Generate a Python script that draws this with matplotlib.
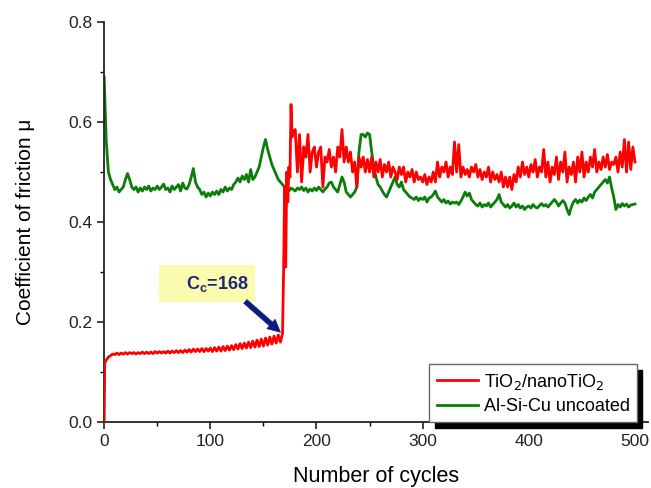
import numpy as np
import matplotlib
matplotlib.use("Agg")
import matplotlib.pyplot as plt
from matplotlib.patches import Rectangle
from matplotlib.ticker import MultipleLocator

plt.rcParams['font.family'] = ['Liberation Sans', 'DejaVu Sans']

# ---------------- data ----------------
# TiO2/nanoTiO2 coating: running-in stage (cycles 0 .. 168)
red_cycles_a = [0, 0.5] + list(range(2, 170, 2))
red_mu_a = [0.0, 0.118,
            0.124, 0.130, 0.133, 0.136, 0.135,
            0.138, 0.135, 0.138, 0.136, 0.139,
            0.136, 0.139, 0.137, 0.139, 0.136,
            0.139, 0.137, 0.140, 0.137, 0.140,
            0.137, 0.140, 0.137, 0.141, 0.138,
            0.141, 0.138, 0.141, 0.138, 0.142,
            0.138, 0.142, 0.139, 0.143, 0.139,
            0.143, 0.139, 0.144, 0.140, 0.145,
            0.140, 0.146, 0.141, 0.146, 0.141,
            0.147, 0.141, 0.147, 0.142, 0.148,
            0.141, 0.149, 0.142, 0.150, 0.142,
            0.151, 0.143, 0.152, 0.144, 0.153,
            0.145, 0.155, 0.146, 0.157, 0.147,
            0.158, 0.148, 0.160, 0.149, 0.162,
            0.150, 0.164, 0.151, 0.166, 0.152,
            0.168, 0.154, 0.170, 0.156, 0.172,
            0.158, 0.174, 0.160, 0.177]
# coating failure transition
red_cycles_b = [169, 170, 171, 172, 173, 174, 175, 176, 177, 178]
red_mu_b = [0.30, 0.47, 0.31, 0.50, 0.44, 0.51, 0.49, 0.635, 0.57, 0.58]
# after failure (cycles 180 .. 500)
red_cycles_c = list(range(180, 502, 2))
red_mu_c = [0.585, 0.50, 0.575, 0.48, 0.55,
            0.53, 0.575, 0.50, 0.54, 0.55,
            0.51, 0.54, 0.55, 0.47, 0.53,
            0.52, 0.545, 0.51, 0.53, 0.50,
            0.55, 0.53, 0.585, 0.52, 0.55,
            0.52, 0.54, 0.50, 0.52, 0.47,
            0.53, 0.51, 0.53, 0.50, 0.525,
            0.50, 0.53, 0.49, 0.52, 0.50,
            0.525, 0.49, 0.515, 0.50, 0.52,
            0.49, 0.51, 0.50, 0.485, 0.51,
            0.495, 0.51, 0.48, 0.50, 0.49,
            0.505, 0.48, 0.50, 0.485, 0.49,
            0.48, 0.495, 0.475, 0.49, 0.48,
            0.50, 0.48, 0.52, 0.49, 0.51,
            0.50, 0.52, 0.49, 0.51, 0.495,
            0.56, 0.50, 0.555, 0.49, 0.51,
            0.495, 0.505, 0.49, 0.51, 0.50,
            0.515, 0.49, 0.505, 0.485, 0.50,
            0.49, 0.51, 0.48, 0.50, 0.485,
            0.495, 0.48, 0.50, 0.47, 0.49,
            0.47, 0.49, 0.465, 0.495, 0.48,
            0.51, 0.49, 0.52, 0.495, 0.51,
            0.49, 0.515, 0.50, 0.525, 0.49,
            0.51, 0.50, 0.545, 0.49, 0.52,
            0.48, 0.51, 0.495, 0.53, 0.485,
            0.52, 0.50, 0.54, 0.48, 0.51,
            0.495, 0.52, 0.48, 0.53, 0.50,
            0.54, 0.49, 0.52, 0.50, 0.53,
            0.51, 0.545, 0.50, 0.52, 0.505,
            0.53, 0.51, 0.535, 0.505, 0.52,
            0.515, 0.53, 0.50, 0.54, 0.51,
            0.565, 0.50, 0.56, 0.505, 0.55,
            0.52]

# Al-Si-Cu uncoated substrate
green_cycles = list(range(0, 502, 2))
green_mu = [0.69, 0.56, 0.50, 0.485, 0.475,
            0.465, 0.47, 0.46, 0.465, 0.47,
            0.485, 0.497, 0.485, 0.47, 0.465,
            0.47, 0.46, 0.468, 0.462, 0.47,
            0.465, 0.472, 0.462, 0.468, 0.465,
            0.472, 0.465, 0.47, 0.476, 0.465,
            0.468, 0.46, 0.472, 0.465, 0.47,
            0.475, 0.462, 0.478, 0.468, 0.466,
            0.475, 0.49, 0.507, 0.48, 0.47,
            0.465, 0.455, 0.46, 0.45, 0.458,
            0.452, 0.46, 0.455, 0.462, 0.455,
            0.465, 0.46, 0.47, 0.462, 0.468,
            0.465, 0.475, 0.48, 0.488, 0.48,
            0.492, 0.485, 0.495, 0.48, 0.505,
            0.485, 0.49, 0.50, 0.51, 0.53,
            0.55, 0.565, 0.545, 0.53, 0.515,
            0.505, 0.495, 0.485, 0.48, 0.475,
            0.47, 0.465, 0.462, 0.468, 0.465,
            0.462, 0.468, 0.465, 0.47, 0.463,
            0.468, 0.46, 0.466, 0.462, 0.468,
            0.463, 0.47, 0.465, 0.46, 0.466,
            0.47, 0.478, 0.48, 0.47, 0.465,
            0.46, 0.475, 0.49, 0.48, 0.46,
            0.455, 0.45, 0.455, 0.46, 0.47,
            0.54, 0.575, 0.575, 0.57, 0.578,
            0.575, 0.54, 0.51, 0.49, 0.475,
            0.47, 0.462, 0.455, 0.45, 0.46,
            0.47, 0.48, 0.49, 0.475, 0.47,
            0.48, 0.465, 0.46, 0.455, 0.45,
            0.448, 0.445, 0.45, 0.443, 0.448,
            0.445, 0.45, 0.44, 0.448, 0.45,
            0.455, 0.462, 0.45, 0.445, 0.44,
            0.445, 0.438, 0.442, 0.436, 0.44,
            0.438, 0.44, 0.435, 0.442, 0.45,
            0.46, 0.452, 0.458, 0.445, 0.44,
            0.435, 0.432, 0.438, 0.43, 0.435,
            0.432, 0.438, 0.43, 0.435, 0.44,
            0.445, 0.455, 0.44, 0.435, 0.43,
            0.435, 0.428, 0.432, 0.438, 0.43,
            0.435, 0.428, 0.432, 0.425, 0.43,
            0.432, 0.428, 0.435, 0.43, 0.428,
            0.433, 0.437, 0.432, 0.435, 0.43,
            0.435, 0.44, 0.445, 0.44, 0.432,
            0.438, 0.443, 0.438, 0.425, 0.415,
            0.43, 0.44, 0.445, 0.438, 0.444,
            0.44, 0.448, 0.443, 0.45, 0.455,
            0.448, 0.46, 0.465, 0.47, 0.475,
            0.48, 0.485, 0.478, 0.49, 0.468,
            0.45, 0.425, 0.435, 0.43, 0.437,
            0.432, 0.436, 0.43, 0.434, 0.435,
            0.436]

critical_cycle = 168
critical_mu = 0.176

series_labels = ['TiO$_2$/nanoTiO$_2$', 'Al-Si-Cu uncoated']
x_ticks = [0, 100, 200, 300, 400, 500]
y_ticks = [0.0, 0.2, 0.4, 0.6, 0.8]

# ---------------- plot ----------------
fig = plt.figure(figsize=(6.51, 4.88), dpi=100)
ax = fig.add_axes([0.160, 0.135, 0.835, 0.820])

red_x = np.array(red_cycles_a + red_cycles_b + red_cycles_c, dtype=float)
red_y = np.array(red_mu_a + red_mu_b + red_mu_c)

ax.plot(green_cycles, green_mu, color='#0a7d0a', lw=2.0, label=series_labels[1], zorder=2)
ax.plot(red_x, red_y, color='#ff0000', lw=2.0, label=series_labels[0], zorder=3)

ax.set_xlim(0, 512)
ax.set_ylim(0, 0.8)
ax.set_xticks(x_ticks)
ax.set_yticks(y_ticks)
ax.set_yticklabels([f'{v:.1f}' for v in y_ticks])
ax.xaxis.set_minor_locator(MultipleLocator(50))
ax.yaxis.set_minor_locator(MultipleLocator(0.1))
ax.tick_params(which='major', direction='out', length=5, width=1.2, labelsize=12.5, colors='#222222')
ax.tick_params(which='minor', direction='out', length=3, width=1.0)
for s in ['top', 'right']:
    ax.spines[s].set_visible(False)
for s in ['left', 'bottom']:
    ax.spines[s].set_linewidth(1.3)
    ax.spines[s].set_color('#222222')

ax.set_xlabel('Number of cycles', fontsize=15.5, labelpad=12)
ax.set_ylabel('Coefficient of friction \u03bc', fontsize=15, labelpad=24)

# annotation: critical cycle
ax.add_patch(Rectangle((52, 0.240), 90, 0.074, facecolor='#fbfbb0', edgecolor='none', zorder=4))
ax.text(136, 0.277, 'C$_\\mathregular{c}$=168', fontsize=13, fontweight='bold', color='#1a2a7a',
        ha='right', va='center', zorder=5)
ax.annotate('', xy=(critical_cycle, critical_mu), xytext=(131, 0.245),
            arrowprops=dict(arrowstyle='simple,head_length=0.9,head_width=0.9,tail_width=0.35',
                            color='#0d1a80', lw=0.5), zorder=6)

handles, labels = ax.get_legend_handles_labels()
leg = ax.legend(handles[::-1], labels[::-1], loc='lower right', bbox_to_anchor=(0.98, 0.0),
                fontsize=13, frameon=True, fancybox=False,
                shadow={'color': 'black', 'alpha': 1.0, 'ox': 4, 'oy': -4},
                edgecolor='#666666', handlelength=2.3, borderpad=0.4, labelspacing=0.35,
                handletextpad=0.3, borderaxespad=0.0)
leg.get_frame().set_linewidth(1.0)

fig.savefig('out.png', dpi=100)
